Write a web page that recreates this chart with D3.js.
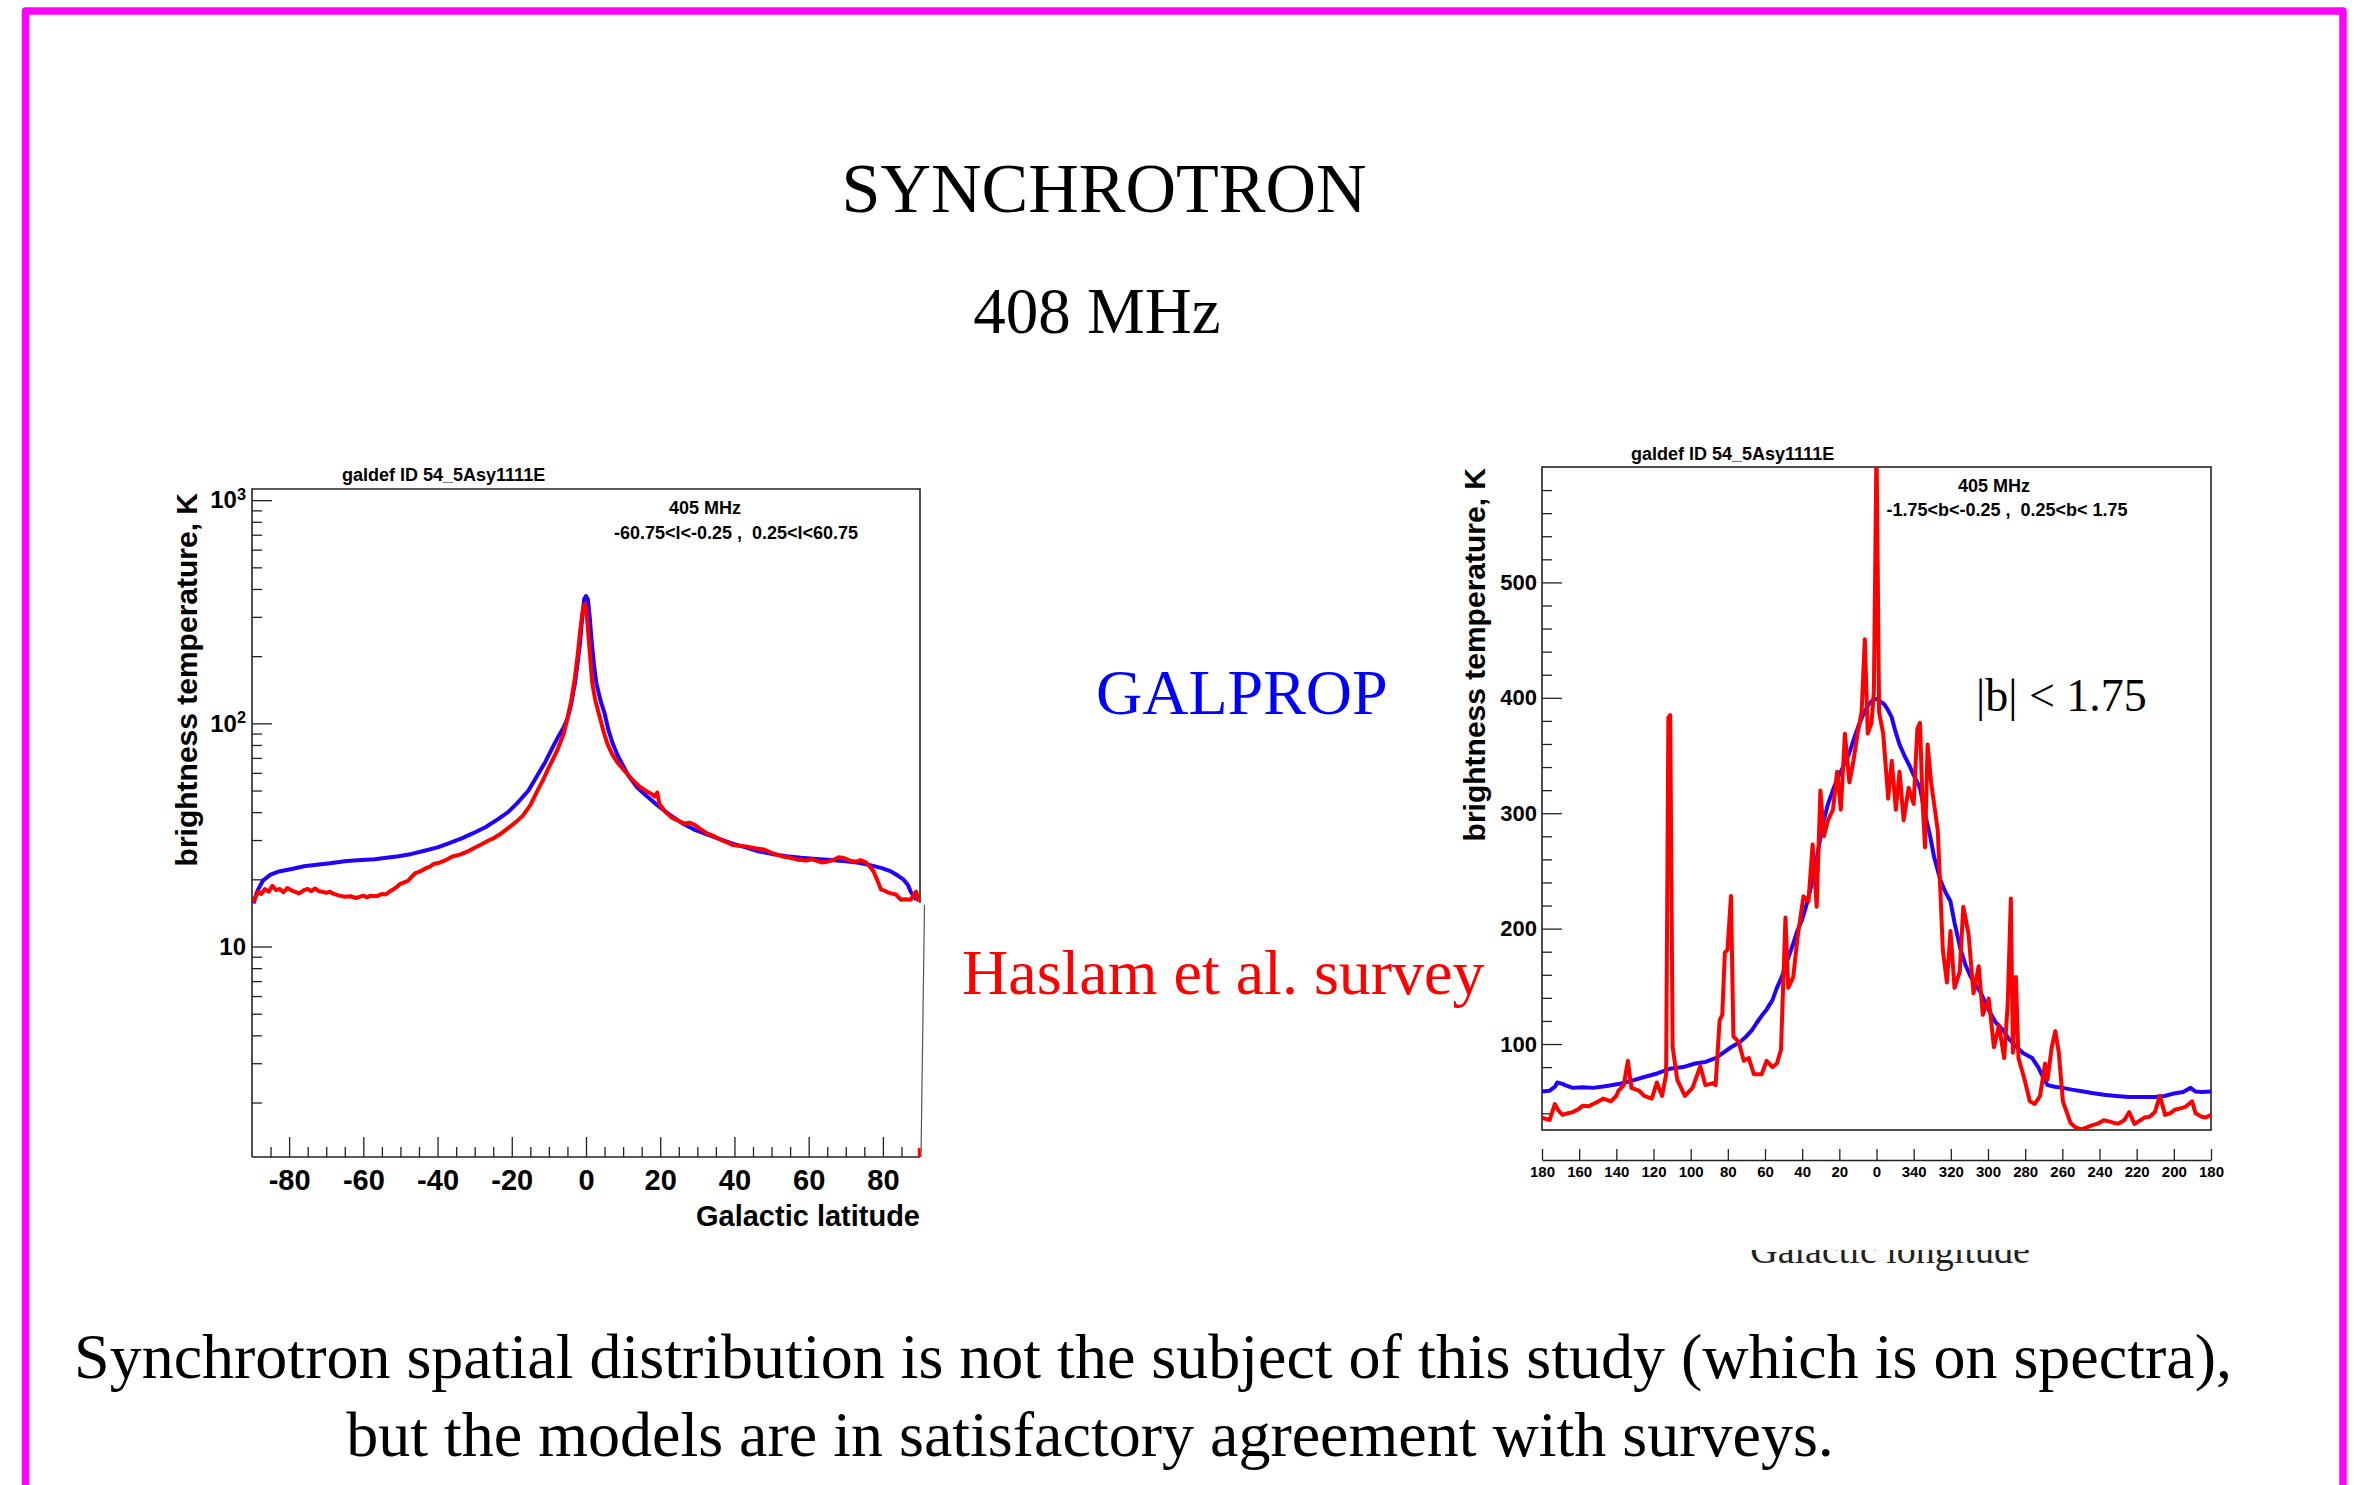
<!DOCTYPE html>
<html>
<head>
<meta charset="utf-8">
<script src="https://cdn.jsdelivr.net/npm/d3@7"></script>
<style>
body { margin: 0; background: #fff; }
svg { display: block; }
text { white-space: pre; }
</style>
</head>
<body>
<div id="slide"></div>
<script>
// latitude profile (405 MHz, |l| < 60.75), [b, T]
var latModel = [[-89.6,15.6],[-88.5,17.8],[-87,19.8],[-85,21],[-82.7,21.7],[-79,22.3],[-76,22.9],[-72,23.3],[-69,23.6],[-65,24.1],[-62.6,24.3],[-57,24.6],[-50.5,25.4],[-47,26],[-43.8,26.8],[-40,27.8],[-37,29],[-33.5,30.5],[-30.4,32.2],[-27,34.3],[-23.7,37.2],[-21,40],[-18.4,44.1],[-15.5,50],[-13,58.9],[-11,67],[-9,78],[-7.5,87],[-6,96],[-5,105],[-4,122],[-3,151],[-2.2,190],[-1.6,231],[-1,300],[-0.5,360],[0,372],[0.5,360],[1,300],[1.5,235],[2.2,180],[2.8,151],[4,125],[5,111],[6,94],[7.1,82],[8.5,72],[9.8,65.5],[11.5,58],[13.8,51.6],[16.5,47],[19.2,43],[22.5,39],[25.9,35.7],[29,33.5],[32.6,31.8],[36,30.3],[39.3,29],[43,27.8],[46,26.8],[50,26],[54,25.4],[58,25],[62,24.7],[66,24.4],[70,24.1],[73.5,23.7],[76.8,23.1],[79.5,22.5],[82.2,21.7],[84,20.8],[85.5,20],[86.8,18.8],[87.5,17.6],[88.3,16.8],[89,16.2]];
var latSurvey = [[-89.6,15.8],[-89,16.8],[-88.2,17.6],[-87.5,17.2],[-86.5,18.1],[-85.5,17.6],[-84.5,18.7],[-83.5,17.9],[-82.5,18.1],[-81.5,17.5],[-80.5,18.3],[-79.5,17.9],[-78.5,17.6],[-77.3,17.3],[-76,17.9],[-75,18.1],[-74,17.7],[-73,18.2],[-72,17.7],[-71,17.6],[-70,17.4],[-69,17.6],[-68,17.2],[-66.5,16.9],[-65,16.7],[-63.5,16.8],[-62,16.5],[-61,16.7],[-60,16.9],[-59,16.6],[-58,16.9],[-57,16.8],[-56,16.9],[-55,17.2],[-54,17.1],[-53,17.6],[-52,18],[-51,18.5],[-50,19.1],[-49,19.4],[-48,19.7],[-47,20.5],[-46,21.3],[-45,21.6],[-44,22],[-43,22.5],[-42,22.8],[-41,23.5],[-40,23.6],[-38,24.3],[-36,25.3],[-34,25.8],[-32,26.6],[-30.4,27.5],[-28,28.8],[-26,30],[-25,30.5],[-23,32],[-21,33.9],[-19,36],[-17,38.6],[-15,43],[-13,50.2],[-11.5,56],[-10.3,62],[-9,68.5],[-7.6,76.7],[-6,90],[-5,105],[-4,126],[-3,160],[-2.2,205],[-1.6,257],[-1,310],[-0.6,335],[-0.3,343],[0,330],[0.4,280],[0.8,231],[1.2,190],[1.7,151],[2.5,127],[3.8,105],[4.8,91],[5.8,80.7],[7,73],[8.4,67],[10.5,61],[12.5,55.9],[14.5,52],[16.5,49.4],[17.5,48.5],[18.5,47],[19.2,49],[19.8,43.5],[21.5,40],[23.2,37.7],[25,36.5],[26.5,35.6],[27.9,35.9],[29,35.3],[31,33.5],[32.6,32.1],[34.5,31.2],[36.5,30],[38,29.3],[39.3,28.6],[41,28.3],[43,28.1],[46,27.5],[48,27.2],[50,26.3],[52.7,25.4],[55,25],[57,24.5],[59.4,24.3],[61,24.6],[63.4,23.8],[65,24],[66.5,24.4],[68.1,25.1],[69.5,24.9],[71,24.3],[72.8,24],[74,24.4],[75.5,23.8],[76.5,22.8],[77.5,21.7],[78.5,19.8],[79.5,18],[80.5,17.8],[81.3,17.5],[82.2,17.3],[83.5,17.1],[84.9,16.2],[86,16.3],[87.5,16.2],[88.5,17.3],[89,17.6],[89.6,15.9]];
var latSurveyEdge = [[89.8,1.14],[89.8,1.25]];
var latMajorTicks = [-80,-60,-40,-20,0,20,40,60,80];
var latTempTicks = [10,100,1000];

// longitude profile (405 MHz, |b| < 1.75), [l (signed), T]
var lonModel = [[180,58.8],[176,59.5],[173,63],[171.8,66.7],[169,65.5],[167.6,64.4],[163.5,62],[158,62.5],[152.5,62],[146,63.5],[138.8,65.3],[132,68],[125,71.4],[118,74.5],[111.3,78.5],[104,80],[97.6,83.1],[92,84.5],[86.6,87.8],[82,93],[78.3,97.2],[74,101],[70.1,106.6],[67,112],[64.6,118],[62,124],[59.1,130],[56,138],[53.6,148.7],[51,158],[48.1,172],[45,186],[42.6,198],[40,208],[37.1,223.7],[34,245],[31.6,265.8],[29,290],[26.1,308],[23,322],[20.6,331.4],[18,340],[15.1,350],[12,365],[9.6,376],[7,386],[4.1,394.6],[2,398],[0,399],[-2,397],[-4.1,394.6],[-6,390],[-8.2,383],[-10,372],[-12.4,359.5],[-15,350],[-17.9,340.7],[-20,333],[-23.4,322],[-26,300],[-28.9,280],[-31,262],[-34.3,242.4],[-37,232],[-39.8,223.7],[-42,205],[-45.3,181.5],[-48,168],[-50.8,158],[-53,152],[-56.3,144],[-59,134],[-61.8,125.3],[-64,119],[-67.3,113.6],[-71,105],[-75.6,97.2],[-79,92],[-83.8,87.8],[-87,80],[-90,70],[-92,64.4],[-96,63],[-100.3,62],[-105,60.5],[-111.3,58.8],[-116,57.5],[-122.3,56],[-129,55],[-136,54.1],[-143,54],[-149.8,54.1],[-155,55],[-160.8,57.4],[-165,58.5],[-169,62],[-171.7,58.8],[-175,58.5],[-180,58.8]];
var lonSurvey = [[180,36.3],[175.9,34],[173.1,48],[171,42],[169,38.6],[166,40],[163.5,41],[160,44],[158,46.6],[155,46],[152.5,48],[150,50],[147,52.7],[142.9,50.4],[140,55],[138.8,59.7],[136,64.4],[133.8,85.5],[131.9,62],[127.8,59.7],[125,55],[120.9,52.7],[118.2,66.7],[115.4,55],[113.2,73.8],[112,383],[111,385],[109.7,97.2],[107.2,69],[103.1,55],[99,62],[94.8,80.8],[92.1,64.4],[88,66],[86.6,64.4],[84.4,120.6],[83,125.3],[81.6,179.2],[80.2,181.5],[78.3,228.3],[77,106.6],[74.2,101.9],[71.4,85.5],[68.7,87.8],[66,73.8],[61.8,73.8],[59.1,85.5],[56,80],[53.6,83.1],[51.4,94.9],[49,209.6],[47.5,148.7],[44.8,158],[42.6,191],[39.3,228],[36.6,223.7],[34.4,272.8],[32.2,219],[30.2,319.7],[28.3,280],[26.1,294],[23.4,303],[21.2,336],[19.2,303],[17,368.9],[14.6,326.7],[12.4,345.4],[10.2,369],[8,387.6],[6.3,450.8],[4.7,369],[2.7,378],[1.4,406],[0,620],[-1.4,387.6],[-3.6,369],[-6.3,312.6],[-8.2,345.4],[-10.4,303],[-12.4,336],[-14.6,294],[-17.3,322],[-20,308],[-22,373.6],[-23.4,378.3],[-24.7,312.6],[-26.1,270.5],[-27.5,359.5],[-29.4,326.7],[-33,284.5],[-35.7,181.5],[-37.9,153.3],[-39.8,198],[-42,148.7],[-44.8,162.8],[-46.7,219],[-49.5,195.6],[-52.2,144],[-55,167.4],[-57.2,125.3],[-60.4,139.3],[-63.2,97.2],[-65.9,116],[-68.7,87.8],[-70.6,134.7],[-72.3,226],[-73.4,92.5],[-75,158],[-76.4,87.8],[-79.7,69],[-82.5,50.4],[-85.2,48],[-88,55],[-90.7,83.1],[-92,69],[-94.3,97.2],[-96.2,111.2],[-98.1,92.5],[-100.3,50.4],[-104.4,31.6],[-107,28],[-109.9,26],[-112,27],[-115.4,29.3],[-119,31],[-122.3,34],[-125,33],[-127.8,31.6],[-130,31],[-133.3,34],[-136,41],[-138.8,30.7],[-141,33],[-144.3,36.3],[-147,37],[-149.8,41],[-152.5,55],[-155.3,38.6],[-158,40],[-160.8,43.3],[-163,44],[-166.3,45.6],[-169.8,50.4],[-171.7,40],[-175,37],[-177.2,36.3],[-180,38.6]];
var lonTicks = [180,160,140,120,100,80,60,40,20,0,-20,-40,-60,-80,-100,-120,-140,-160,-180];
var lonTickLabels = ["180","160","140","120","100","80","60","40","20","0","340","320","300","280","260","240","220","200","180"];
var lonTempTicks = [100,200,300,400,500];

var W = 2354, H = 1485;
var serif = "'Liberation Serif', 'Times New Roman', serif";
var sans = "'Liberation Sans', Arial, Helvetica, sans-serif";
var blue = "#2200ff", red = "#ff0000", ink = "#222";
var lw = 4;

var svg = d3.select("#slide").append("svg")
    .attr("width", W).attr("height", H);

// slide border (open at the bottom)
svg.append("path")
    .attr("d", "M25.5," + (H + 20) + "V11H2343V" + (H + 20))
    .attr("fill", "none")
    .attr("stroke", "#ff00ff")
    .attr("stroke-width", 7.5)
    .attr("stroke-linejoin", "round");

// slide texts
svg.append("text").attr("x", 1104).attr("y", 212).attr("text-anchor", "middle")
    .attr("font-family", serif).attr("font-size", 70).text("SYNCHROTRON");
svg.append("text").attr("x", 1097).attr("y", 333).attr("text-anchor", "middle")
    .attr("font-family", serif).attr("font-size", 65).text("408 MHz");
svg.append("text").attr("x", 1096).attr("y", 714)
    .attr("font-family", serif).attr("font-size", 64).attr("fill", "#0000ff").text("GALPROP");
svg.append("text").attr("x", 962).attr("y", 994)
    .attr("font-family", serif).attr("font-size", 64).attr("fill", "#ff0000").text("Haslam et al. survey");
svg.append("text").attr("x", 1153).attr("y", 1378).attr("text-anchor", "middle")
    .attr("font-family", serif).attr("font-size", 64)
    .text("Synchrotron spatial distribution is not the subject of this study (which is on spectra),");
svg.append("text").attr("x", 1090).attr("y", 1456).attr("text-anchor", "middle")
    .attr("font-family", serif).attr("font-size", 64)
    .text("but the models are in satisfactory agreement with surveys.");

function styleAxis(g, size) {
    g.attr("font-family", sans).attr("font-size", size).attr("font-weight", "bold").attr("color", ink);
    g.selectAll(".tick line").attr("stroke-width", 1.3);
    g.selectAll("text").attr("fill", "#000");
}

// ---------- left: latitude profile ----------
var L = {x0: 252, x1: 920, y0: 489, y1: 1157};
var lx = d3.scaleLinear().domain([-90, 90]).range([L.x0, L.x1]);
var ly = d3.scaleLog().domain([1.14, 1122]).range([L.y1, L.y0]);

var left = svg.append("g");
left.append("clipPath").attr("id", "clipL").append("rect")
    .attr("x", L.x0).attr("y", L.y0).attr("width", L.x1 - L.x0).attr("height", L.y1 - L.y0);

var latMinor = d3.range(-85, 90, 5).filter(function(v){ return v % 20 !== 0; });
left.append("g").attr("transform", "translate(0," + L.y1 + ")")
    .call(d3.axisBottom(lx).tickValues(latMinor).tickSize(-10).tickSizeOuter(0).tickFormat(""))
    .call(function(g){ g.select(".domain").remove(); styleAxis(g, 29); });
left.append("g").attr("transform", "translate(0," + L.y1 + ")")
    .call(d3.axisBottom(lx).tickValues(latMajorTicks).tickSize(-20).tickSizeOuter(0).tickPadding(12)
        .tickFormat(function(d){ return String(d); }))
    .call(function(g){ g.select(".domain").remove(); styleAxis(g, 29); });

var logMinor = [];
[1, 10, 100].forEach(function(p){ d3.range(2, 10).forEach(function(m){ if (m * p > 1.14) logMinor.push(m * p); }); });
left.append("g").attr("transform", "translate(" + L.x0 + ",0)")
    .call(d3.axisLeft(ly).tickValues(logMinor).tickSize(-10).tickSizeOuter(0).tickFormat(""))
    .call(function(g){ g.select(".domain").remove(); styleAxis(g, 24); });
left.append("g").attr("transform", "translate(" + L.x0 + ",0)")
    .call(d3.axisLeft(ly).tickValues(latTempTicks).tickSize(-20).tickSizeOuter(0).tickPadding(6)
        .tickFormat(function(d){ return String(d); }))
    .call(function(g){
        g.select(".domain").remove(); styleAxis(g, 24);
        g.selectAll(".tick text").each(function(d){
            var e = Math.round(Math.log10(d));
            var t = d3.select(this).text("");
            if (e === 1) { t.text("10"); return; }
            t.append("tspan").text("10");
            t.append("tspan").attr("dy", "-0.5em").attr("font-size", "0.68em").text(e);
        });
    });

// frame (right edge is broken in the original picture)
left.append("path")
    .attr("d", "M" + L.x0 + "," + L.y1 + "V" + L.y0 + "H" + L.x1 + "V903")
    .attr("fill", "none").attr("stroke", ink).attr("stroke-width", 1.6);
left.append("path")
    .attr("d", "M" + L.x0 + "," + L.y1 + "H" + L.x1)
    .attr("fill", "none").attr("stroke", ink).attr("stroke-width", 1.6);
left.append("path")
    .attr("d", "M924.5,905L921," + L.y1)
    .attr("fill", "none").attr("stroke", "#555").attr("stroke-width", 1.2);

var lineL = d3.line().x(function(d){ return lx(d[0]); }).y(function(d){ return ly(d[1]); });
left.append("path").datum(latModel).attr("d", lineL).attr("clip-path", "url(#clipL)")
    .attr("fill", "none").attr("stroke", blue).attr("stroke-width", lw).attr("stroke-linejoin", "round");
left.append("path").datum(latSurvey).attr("d", lineL).attr("clip-path", "url(#clipL)")
    .attr("fill", "none").attr("stroke", red).attr("stroke-width", lw).attr("stroke-linejoin", "round");
left.append("path").datum(latSurveyEdge).attr("d", lineL)
    .attr("fill", "none").attr("stroke", red).attr("stroke-width", 3);

left.append("text").attr("x", 342).attr("y", 481)
    .attr("font-family", sans).attr("font-weight", "bold").attr("font-size", 18).text("galdef ID 54_5Asy1111E");
left.append("text").attr("x", 705).attr("y", 514).attr("text-anchor", "middle")
    .attr("font-family", sans).attr("font-weight", "bold").attr("font-size", 18).text("405 MHz");
left.append("text").attr("x", 736).attr("y", 539).attr("text-anchor", "middle")
    .attr("font-family", sans).attr("font-weight", "bold").attr("font-size", 18).text("-60.75<l<-0.25 ,  0.25<l<60.75");
left.append("text").attr("x", L.x1).attr("y", 1226).attr("text-anchor", "end")
    .attr("font-family", sans).attr("font-weight", "bold").attr("font-size", 29).text("Galactic latitude");
left.append("text").attr("transform", "translate(197,493) rotate(-90)").attr("text-anchor", "end")
    .attr("font-family", sans).attr("font-weight", "bold").attr("font-size", 30).text("brightness temperature, K");

// ---------- right: longitude profile ----------
var R = {x0: 1542, x1: 2211, y0: 467, y1: 1130, axisY: 1160};
var rx = d3.scaleLinear().domain([180, -180]).range([R.x0, R.x1]);
var ry = d3.scaleLinear().domain([25.5, 600]).range([R.y1, R.y0]);

var right = svg.append("g");
right.append("clipPath").attr("id", "clipR").append("rect")
    .attr("x", R.x0).attr("y", R.y0).attr("width", R.x1 - R.x0).attr("height", R.y1 - R.y0);

var linMinor = d3.range(40, 600, 20).filter(function(v){ return v % 100 !== 0; });
right.append("g").attr("transform", "translate(" + R.x0 + ",0)")
    .call(d3.axisLeft(ry).tickValues(linMinor).tickSize(-10).tickSizeOuter(0).tickFormat(""))
    .call(function(g){ g.select(".domain").remove(); styleAxis(g, 22); });
right.append("g").attr("transform", "translate(" + R.x0 + ",0)")
    .call(d3.axisLeft(ry).tickValues(lonTempTicks).tickSize(-20).tickSizeOuter(0).tickPadding(5)
        .tickFormat(function(d){ return String(d); }))
    .call(function(g){ g.select(".domain").remove(); styleAxis(g, 22); });

right.append("rect")
    .attr("x", R.x0).attr("y", R.y0).attr("width", R.x1 - R.x0).attr("height", R.y1 - R.y0)
    .attr("fill", "none").attr("stroke", ink).attr("stroke-width", 1.6);

right.append("g").attr("transform", "translate(0," + R.axisY + ")")
    .call(d3.axisBottom(rx).tickValues(lonTicks).tickSize(-11).tickSizeOuter(0).tickPadding(6)
        .tickFormat(function(d, i){ return lonTickLabels[i]; }))
    .call(function(g){ styleAxis(g, 15); g.select(".domain").attr("stroke-width", 1.3); });

var lineR = d3.line().x(function(d){ return rx(d[0]); }).y(function(d){ return ry(d[1]); });
right.append("path").datum(lonModel).attr("d", lineR).attr("clip-path", "url(#clipR)")
    .attr("fill", "none").attr("stroke", blue).attr("stroke-width", lw).attr("stroke-linejoin", "round");
right.append("path").datum(lonSurvey).attr("d", lineR).attr("clip-path", "url(#clipR)")
    .attr("fill", "none").attr("stroke", red).attr("stroke-width", lw).attr("stroke-linejoin", "round");

right.append("text").attr("x", 1631).attr("y", 460)
    .attr("font-family", sans).attr("font-weight", "bold").attr("font-size", 18).text("galdef ID 54_5Asy1111E");
right.append("text").attr("x", 1994).attr("y", 492).attr("text-anchor", "middle")
    .attr("font-family", sans).attr("font-weight", "bold").attr("font-size", 18).text("405 MHz");
right.append("text").attr("x", 2007).attr("y", 516).attr("text-anchor", "middle")
    .attr("font-family", sans).attr("font-weight", "bold").attr("font-size", 18).text("-1.75<b<-0.25 ,  0.25<b< 1.75");
right.append("text").attr("x", 1976).attr("y", 711)
    .attr("font-family", serif).attr("font-size", 46).text("|b| < 1.75");
right.append("text").attr("transform", "translate(1485,468) rotate(-90)").attr("text-anchor", "end")
    .attr("font-family", sans).attr("font-weight", "bold").attr("font-size", 30).text("brightness temperature, K");

// axis title cut off at the top in the original
right.append("clipPath").attr("id", "clipT").append("rect")
    .attr("x", 1600).attr("y", 1250).attr("width", 600).attr("height", 40);
right.append("text").attr("x", 1890).attr("y", 1263).attr("text-anchor", "middle")
    .attr("clip-path", "url(#clipT)")
    .attr("font-family", serif).attr("font-size", 38).attr("fill", ink).text("Galactic longitude");
</script>
</body>
</html>
